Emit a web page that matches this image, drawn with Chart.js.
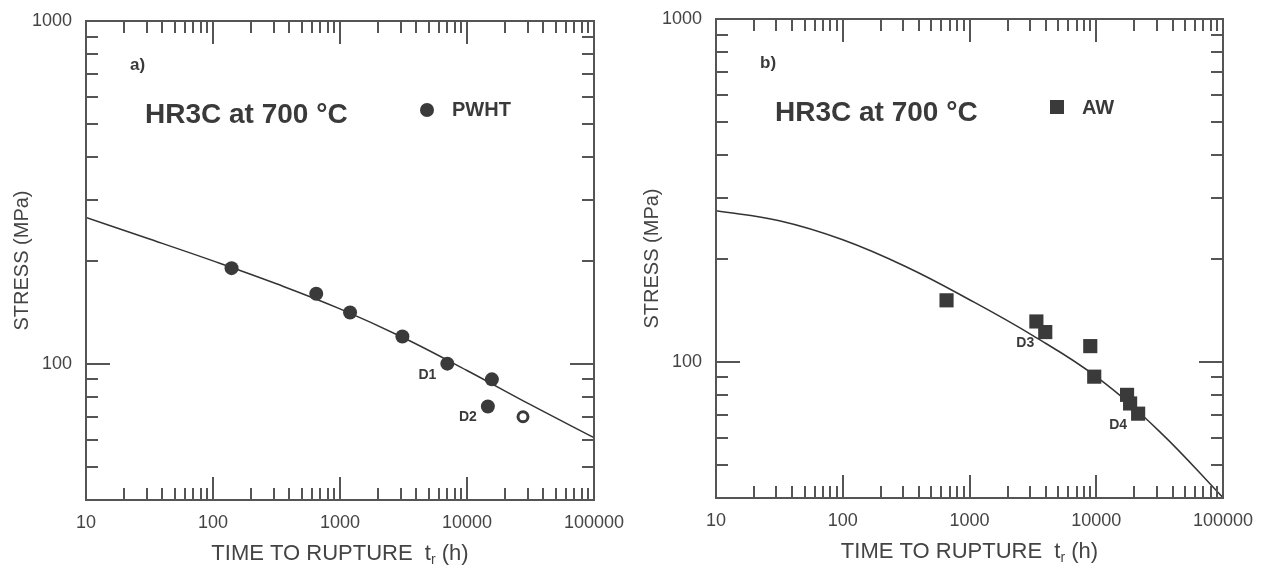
<!DOCTYPE html>
<html>
<head>
<meta charset="utf-8">
<script src="https://cdn.jsdelivr.net/npm/chart.js@4.4.1/dist/chart.umd.min.js"></script>
<style>
  body { margin: 0; background: #fff; }
  #wrap { position: relative; width: 1261px; height: 565px; overflow: hidden; }
  canvas { position: absolute; }
  #chartA { left: 0; top: 0; }
  #chartB { left: 630px; top: -2px; }
</style>
</head>
<body>
<div id="wrap">
  <canvas id="chartA" width="630" height="565"></canvas>
  <canvas id="chartB" width="631" height="565"></canvas>
</div>
<script>
// panel a) PWHT
const pwhtTime = [140, 650, 1200, 3100, 7000, 15700, 14600]
const pwhtStress = [190, 160, 141, 120, 100, 90, 75]
const pwhtOpenTime = [27600]
const pwhtOpenStress = [70]
// panel b) AW
const awTime = [659, 3370, 3960, 8970, 9640, 17500, 18500, 21400]
const awStress = [151, 131, 122, 111, 90.4, 80, 75.5, 70.5]
// fitted curves
const fitTime = [10, 31.6, 100, 316, 1000, 3162, 10000, 31623, 100000]
const fitA = [267, 231, 199.5, 171, 144.5, 119, 95.5, 75.9, 60.8]
const fitB = [275.5, 257.7, 226.8, 189.2, 151.6, 119.1, 90.4, 62.5, 40.1]
// axis ticks
const xTickLabels = [10, 100, 1000, 10000, 100000]
const yTickLabels = [100, 1000]

const ink = '#3a3a3a'
const axisColor = '#555'
const font = "'Liberation Sans', Arial, sans-serif"

function toPoints(xs, ys) {
    return xs.map((v, i) => ({x: v, y: ys[i]}))
}

// frame, inward ticks and text inside the plot
const decor = {
    id: 'decor',
    afterDraw(chart, args, opts) {
        const ctx = chart.ctx
        const a = chart.chartArea
        const x = chart.scales.x
        const y = chart.scales.y
        ctx.save()
        ctx.strokeStyle = axisColor
        ctx.lineWidth = 2
        ctx.strokeRect(a.left, a.top, a.right - a.left, a.bottom - a.top)
        ctx.beginPath()
        for (let k = 10; k < 100000; k *= 10) {
            for (let m = 1; m < 10; m++) {
                if (k === 10 && m === 1) continue
                const px = Math.round(x.getPixelForValue(m * k))
                const len = m === 1 ? 23 : 12
                ctx.moveTo(px, a.bottom)
                ctx.lineTo(px, a.bottom - len)
                ctx.moveTo(px, a.top)
                ctx.lineTo(px, a.top + len)
            }
        }
        for (let k = 10; k < 1000; k *= 10) {
            for (let m = 1; m < 10; m++) {
                const v = m * k
                if (v <= 40) continue
                const py = Math.round(y.getPixelForValue(v))
                const len = v === 100 ? 24 : 12
                ctx.moveTo(a.left, py)
                ctx.lineTo(a.left + len, py)
                ctx.moveTo(a.right, py)
                ctx.lineTo(a.right - len, py)
            }
        }
        ctx.stroke()

        ctx.fillStyle = ink
        ctx.textBaseline = 'middle'
        ctx.textAlign = 'left'
        ctx.font = 'bold 17px ' + font
        ctx.fillText(opts.panel, 130, 65)
        ctx.font = 'bold 28px ' + font
        ctx.textBaseline = 'alphabetic'
        ctx.fillText('HR3C at 700 °C', 145, 123)

        // legend
        ctx.textBaseline = 'middle'
        if (opts.marker === 'circle') {
            ctx.beginPath()
            ctx.arc(427, 110, 7, 0, Math.PI * 2)
            ctx.fill()
        } else {
            ctx.fillRect(420, 102, 14, 14)
        }
        ctx.font = 'bold 20px ' + font
        ctx.fillText(opts.legend, 452, 110)

        // point labels
        ctx.font = 'bold 14px ' + font
        ctx.textAlign = 'center'
        opts.notes.forEach(n => {
            const px = x.getPixelForValue(n.x)
            const py = y.getPixelForValue(n.y)
            ctx.fillText(n.text, px - 20, py + 11)
        })

        // x title with subscript
        ctx.fillStyle = '#444'
        ctx.textBaseline = 'alphabetic'
        ctx.textAlign = 'left'
        const t1 = 'TIME TO RUPTURE  t'
        const t3 = ' (h)'
        ctx.font = '22px ' + font
        const w1 = ctx.measureText(t1).width
        const w3 = ctx.measureText(t3).width
        ctx.font = '14px ' + font
        const w2 = ctx.measureText('r').width
        const cx = (a.left + a.right) / 2
        const sx = cx - (w1 + w2 + w3) / 2
        const base = 560
        ctx.font = '22px ' + font
        ctx.fillText(t1, sx, base)
        ctx.font = '14px ' + font
        ctx.fillText('r', sx + w1, base + 4)
        ctx.font = '22px ' + font
        ctx.fillText(t3, sx + w1 + w2, base)
        ctx.restore()
    }
}

function makeChart(id, datasets, opts, padRight) {
    const config = {
        type: 'scatter',
        data: {datasets: datasets},
        options: {
            responsive: false,
            animation: false,
            devicePixelRatio: 1,
            layout: {padding: {left: 0, top: 21, right: padRight, bottom: 0}},
            scales: {
                x: {
                    type: 'logarithmic',
                    min: 10,
                    max: 100000,
                    grid: {display: false, drawTicks: false},
                    border: {display: false},
                    afterBuildTicks: s => { s.ticks = xTickLabels.map(v => ({value: v})) },
                    afterFit: s => {
                        s.height = 65
                        s.paddingLeft = 0
                        s.paddingRight = 0
                    },
                    ticks: {
                        padding: 12,
                        maxRotation: 0,
                        autoSkip: false,
                        color: '#444',
                        font: {family: font, size: 18},
                        callback: v => String(v)
                    }
                },
                y: {
                    type: 'logarithmic',
                    min: 40,
                    max: 1000,
                    grid: {display: false, drawTicks: false},
                    border: {display: false},
                    afterBuildTicks: s => { s.ticks = yTickLabels.map(v => ({value: v})) },
                    afterFit: s => {
                        s.width = 86
                        s.paddingTop = 0
                        s.paddingBottom = 0
                    },
                    ticks: {
                        padding: 14,
                        autoSkip: false,
                        color: '#444',
                        font: {family: font, size: 18},
                        callback: v => String(v)
                    },
                    title: {
                        display: true,
                        text: 'STRESS (MPa)',
                        color: '#444',
                        font: {family: font, size: 20},
                        padding: {top: 10, bottom: 0}
                    }
                }
            },
            plugins: {
                legend: {display: false},
                tooltip: {enabled: false},
                decor: opts
            }
        },
        plugins: [decor]
    }
    return new Chart(document.getElementById(id), config)
}

const fitLine = ys => ({
    data: toPoints(fitTime, ys),
    showLine: true,
    borderColor: '#333',
    borderWidth: 1.5,
    pointRadius: 0,
    tension: 0.4,
    order: 2
})

makeChart('chartA', [
    fitLine(fitA),
    {
        data: toPoints(pwhtTime, pwhtStress),
        pointStyle: 'circle',
        pointRadius: 7,
        backgroundColor: ink,
        borderColor: ink,
        borderWidth: 0,
        order: 1
    },
    {
        data: toPoints(pwhtOpenTime, pwhtOpenStress),
        pointStyle: 'circle',
        pointRadius: 5,
        backgroundColor: '#fff',
        borderColor: ink,
        borderWidth: 3,
        order: 1
    }
], {
    panel: 'a)',
    legend: 'PWHT',
    marker: 'circle',
    notes: [
        {x: pwhtTime[4], y: pwhtStress[4], text: 'D1'},
        {x: pwhtTime[6], y: pwhtStress[6], text: 'D2'}
    ]
}, 36)

makeChart('chartB', [
    fitLine(fitB),
    {
        data: toPoints(awTime, awStress),
        pointStyle: 'rect',
        pointRadius: 10,
        backgroundColor: ink,
        borderColor: ink,
        borderWidth: 0,
        order: 1
    }
], {
    panel: 'b)',
    legend: 'AW',
    marker: 'rect',
    notes: [
        {x: awTime[2], y: awStress[2], text: 'D3'},
        {x: awTime[7], y: awStress[7], text: 'D4'}
    ]
}, 38)
</script>
</body>
</html>
